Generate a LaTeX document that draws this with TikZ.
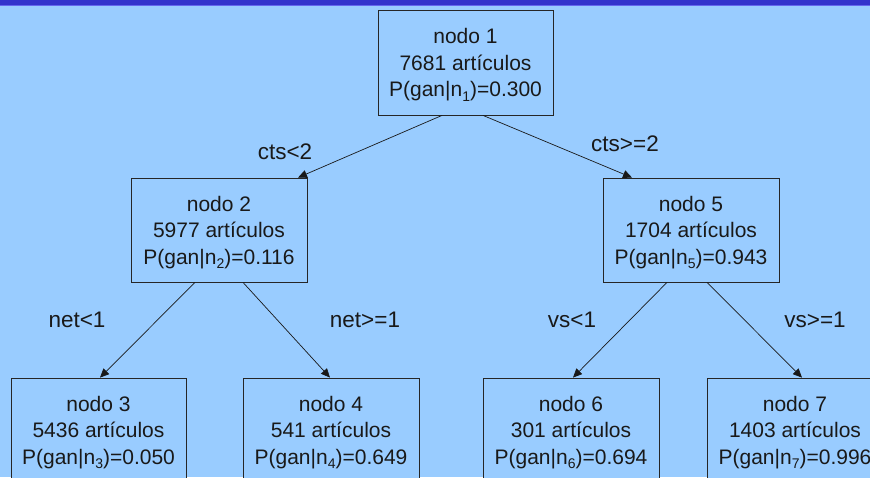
\documentclass[tikz,border=0pt]{standalone}
\usepackage{fontspec}
\setmainfont{Liberation Sans}
\usetikzlibrary{arrows.meta}
\definecolor{bgblue}{HTML}{99CCFF}
\definecolor{topblue}{HTML}{3333CC}
\definecolor{topline}{HTML}{6666EE}
\newcommand\nsub[1]{\raisebox{-4.5pt}{\fontsize{14pt}{14pt}\selectfont #1}}
\tikzset{
  treebox/.style={draw=black!85, line width=0.8pt, fill=bgblue, minimum width=176pt, minimum height=104pt,
    inner sep=0pt},
  boxtext/.style={align=center, inner sep=0pt, font=\fontsize{21pt}{26.5pt}\selectfont, text=black!90},
  edgelbl/.style={font=\fontsize{22.5pt}{27pt}\selectfont, text=black!90, inner sep=0pt},
  conn/.style={draw=black!90, line width=0.7pt, -{Triangle[length=9pt,width=8pt]}}
}
\begin{document}
\begin{tikzpicture}[x=1pt,y=-1pt]
\useasboundingbox (0,0) rectangle (870,477);
\clip (0,0) rectangle (870,477);
\fill[bgblue] (0,0) rectangle (870,477);
\fill[topblue] (0,0) rectangle (870,5.2);
\fill[topline] (0,5.2) rectangle (870,6);

\node[treebox, minimum width=175pt, minimum height=105pt] (n1) at (465.5,62.5) {};
\node[treebox] (n2) at (219,230) {};
\node[treebox] (n5) at (691,230) {};
\node[treebox, minimum width=175pt] (n3) at (98.5,430) {};
\node[treebox] (n4) at (331,430) {};
\node[treebox] (n6) at (571,430) {};
\node[treebox] (n7) at (795,430) {};

\node[boxtext] (t1) at ([yshift=-2.5pt]n1.center) {nodo 1\\7681 artículos\\P(gan|n\nsub{1})=0.300};
\node[boxtext] (t2) at ([yshift=-2.5pt]n2.center) {nodo 2\\5977 artículos\\P(gan|n\nsub{2})=0.116};
\node[boxtext] (t5) at ([yshift=-2.5pt]n5.center) {nodo 5\\1704 artículos\\P(gan|n\nsub{5})=0.943};
\node[boxtext] (t3) at ([yshift=-2.5pt]n3.center) {nodo 3\\5436 artículos\\P(gan|n\nsub{3})=0.050};
\node[boxtext] (t4) at ([yshift=-2.5pt]n4.center) {nodo 4\\541 artículos\\P(gan|n\nsub{4})=0.649};
\node[boxtext] (t6) at ([yshift=-2.5pt]n6.center) {nodo 6\\301 artículos\\P(gan|n\nsub{6})=0.694};
\node[boxtext] (t7) at ([yshift=-2.5pt]n7.center) {nodo 7\\1403 artículos\\P(gan|n\nsub{7})=0.996};

\draw[conn] ([xshift=-23.5pt]n1.south) -- ([xshift=79pt]n2.north);
\draw[conn] ([xshift=17.5pt]n1.south) -- ([xshift=-59pt]n5.north);
\draw[conn] ([xshift=-24pt]n2.south) -- ([xshift=1.5pt]n3.north);
\draw[conn] ([xshift=24pt]n2.south) -- ([xshift=-1pt]n4.north);
\draw[conn] ([xshift=-24pt]n5.south) -- ([xshift=2pt]n6.north);
\draw[conn] ([xshift=16pt]n5.south) -- ([xshift=7pt]n7.north);

\node[edgelbl] (l1) at (285,152) {cts<2};
\node[edgelbl] (l2) at (625,144) {cts>=2};
\node[edgelbl] (l3) at (77,320) {net<1};
\node[edgelbl] (l4) at (365,320) {net>=1};
\node[edgelbl] (l5) at (572,320) {vs<1};
\node[edgelbl] (l6) at (815,320) {vs>=1};
\end{tikzpicture}
\end{document}
